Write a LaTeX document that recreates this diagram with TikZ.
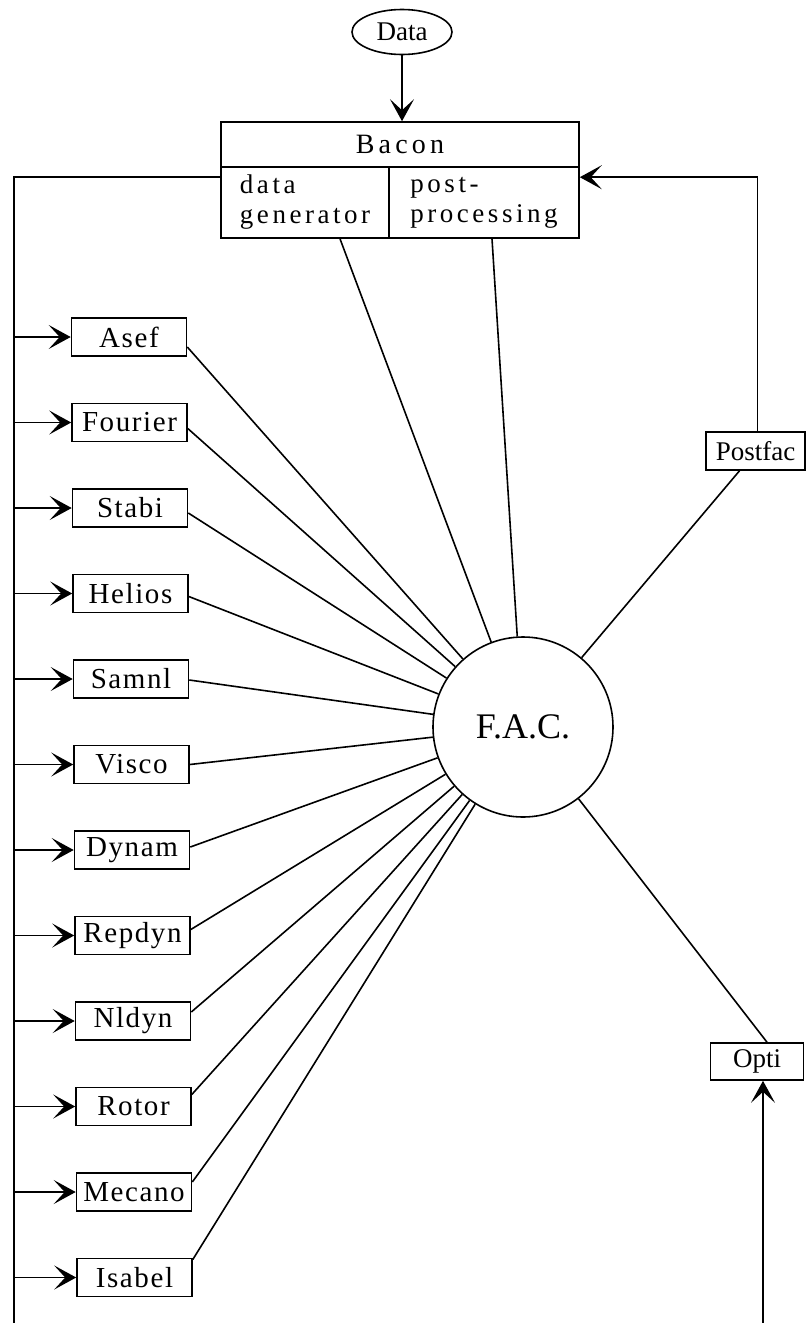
\documentclass[tikz,border=0pt]{standalone}
\usepackage{fontspec}
\setmainfont{Liberation Serif}
\newfontfamily\lsbox[LetterSpace=5.5]{Liberation Serif}
\newfontfamily\lsbacon[LetterSpace=15]{Liberation Serif}
\newfontfamily\lssub[LetterSpace=13]{Liberation Serif}
\usetikzlibrary{arrows.meta,shapes.geometric,calc}
\begin{document}
\begin{tikzpicture}[x=1pt,y=-1pt,line width=1.6pt,
  arr/.style={-{Stealth[length=22pt,width=24pt,inset=11pt]}},
  prog/.style={draw,rectangle,minimum width=115pt,minimum height=38pt,inner sep=0pt,font=\lsbox\fontsize{29}{32}\selectfont},
  small/.style={draw,rectangle,minimum height=38pt,inner sep=0pt,font=\fontsize{27}{30}\selectfont},
  bpart/.style={draw,rectangle,inner sep=0pt,align=left,font=\lssub\fontsize{27}{30}\selectfont}
]
\useasboundingbox (0,0) rectangle (806,1323);

% central hub
\node[circle,draw,minimum size=180pt,inner sep=0pt,font=\fontsize{36}{40}\selectfont] (fac) at (523,727) {F.A.C.};

% Data and Bacon
\node[ellipse,draw,minimum width=100pt,minimum height=45pt,inner sep=0pt,font=\fontsize{27}{30}\selectfont] (data) at (402,32) {Data};
\node[draw,rectangle,minimum width=358pt,minimum height=45pt,inner sep=0pt,font=\lsbacon\fontsize{28}{30}\selectfont] (bacon) at (400,144.5) {Bacon};
\node[bpart,minimum width=168pt,minimum height=71pt] (datagen) at (305,202.5) {data\\generator};
\node[bpart,minimum width=190pt,minimum height=71pt] (post) at (484,202.5) {post-\\processing};
\draw[arr] (data.south) -- (data.south |- bacon.north);

% right side
\node[small,minimum width=99pt] (postfac) at (755.5,451) {Postfac};
\node[small,minimum width=93pt,minimum height=37pt] (opti) at (757,1061.5) {Opti};
\coordinate (ob) at (763,1323);
\coordinate (lb) at (14,1323);

\draw[arr] ($(postfac.north)+(2,0)$) |- ($(post.north east)+(0,11)$);
\draw[arr] (ob) -- (ob |- opti.south);
\draw ($(postfac.south)+(-16,0)$) -- (fac);
\draw ($(opti.north)+(10,0)$) -- (fac);
\draw ($(datagen.south)+(35,0)$) -- (fac);
\draw ($(post.south)+(8,0)$) -- (fac);

% left bus
\draw ($(datagen.north west)+(0,11)$) -| (lb);

\foreach \n/\lab/\i/\d in {asef/Asef/0/10, fourier/Fourier/1/6, stabi/Stabi/2/5, helios/Helios/3/3,
  samnl/Samnl/4/1, visco/Visco/5/0, dynam/Dynam/6/-3, repdyn/Repdyn/7/-6, nldyn/Nldyn/8/-9,
  rotor/Rotor/9/-12, mecano/Mecano/10/-10, isabel/Isabel/11/-18} {
  \node[prog] (\n) at ({129+0.5*\i},{337+85.5*\i}) {\lab};
  \draw[arr] (\n.west -| lb) -- (\n.west);
  \draw ($(\n.east)+(0,\d)$) -- (fac);
}
\end{tikzpicture}
\end{document}
